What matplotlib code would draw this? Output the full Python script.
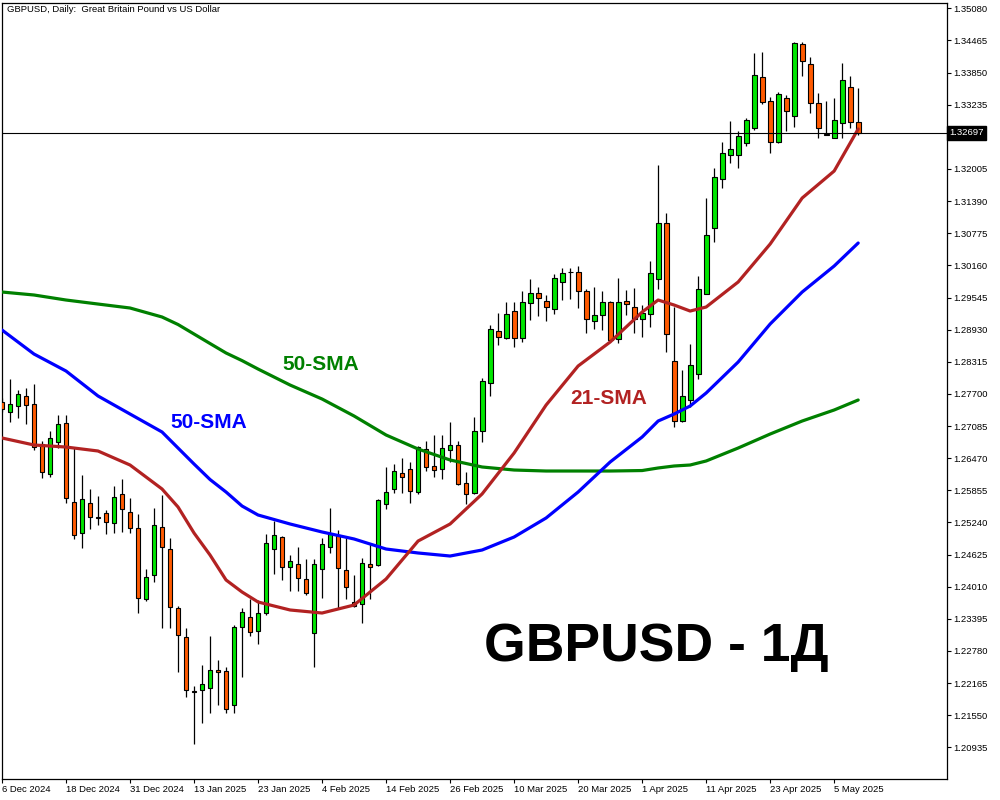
import matplotlib
matplotlib.use('Agg')
import matplotlib.pyplot as plt
import numpy as np

plt.rcParams['font.family'] = ['Liberation Sans', 'DejaVu Sans']

# GBPUSD daily candles, 6 Dec 2024 .. 8 May 2025
opens = [1.27545, 1.27353, 1.27468, 1.27660, 1.27506, 1.26741, 1.26167, 1.26779, 1.27143, 1.25631,
         1.25037, 1.25612, 1.25344, 1.25420, 1.25229, 1.25785, 1.25439, 1.25133, 1.23774, 1.24234,
         1.25152, 1.24731, 1.23602, 1.23047, 1.22013, 1.22032, 1.22071, 1.22415, 1.22396, 1.21745,
         1.23238, 1.23430, 1.23162, 1.23506, 1.24731, 1.24961, 1.24387, 1.24444, 1.24157, 1.23123,
         1.24348, 1.24769, 1.24999, 1.24329, 1.23717, 1.23678, 1.24444, 1.24425, 1.25592, 1.25880,
         1.26186, 1.26262, 1.25822, 1.26645, 1.26320, 1.26262, 1.26626, 1.26722, 1.25994, 1.25803,
         1.26990, 1.27908, 1.28904, 1.28770, 1.29286, 1.28770, 1.29440, 1.29631, 1.29478, 1.29325,
         1.29842, 1.30033, 1.30033, 1.29669, 1.29095, 1.29210, 1.29459, 1.28751, 1.29478, 1.29363,
         1.29133, 1.29229, 1.29899, 1.30971, 1.28330, 1.27181, 1.27583, 1.28081, 1.29612, 1.30875,
         1.31813, 1.32272, 1.32272, 1.32502, 1.32789, 1.33765, 1.33306, 1.32521, 1.33363, 1.33019,
         1.34397, 1.34014, 1.33268, 1.32674, 1.32598, 1.32885, 1.33574, 1.32904]
highs = [1.27621, 1.27985, 1.27774, 1.27813, 1.27889, 1.26798, 1.26990, 1.27296, 1.27296, 1.26683,
         1.26148, 1.25880, 1.25746, 1.25478, 1.25937, 1.26071, 1.25707, 1.25401, 1.24348, 1.25516,
         1.25765, 1.24942, 1.23640, 1.23219, 1.22109, 1.22511, 1.23066, 1.22607, 1.22473, 1.23277,
         1.23602, 1.23774, 1.23755, 1.25018, 1.25267, 1.24980, 1.24616, 1.24769, 1.24540, 1.24540,
         1.24942, 1.25516, 1.25095, 1.24942, 1.24234, 1.24559, 1.24846, 1.25688, 1.26301, 1.26358,
         1.26473, 1.26396, 1.26703, 1.26798, 1.26913, 1.26913, 1.27162, 1.26798, 1.26205, 1.27258,
         1.28004, 1.29019, 1.29248, 1.29459, 1.29459, 1.29669, 1.29899, 1.29746, 1.29593, 1.29995,
         1.30110, 1.30110, 1.30148, 1.29708, 1.29746, 1.29669, 1.29478, 1.29918, 1.29688, 1.29727,
         1.29401, 1.30244, 1.32081, 1.31162, 1.29363, 1.28157, 1.28655, 1.29956, 1.31449, 1.32024,
         1.32521, 1.32923, 1.32732, 1.32981, 1.34225, 1.34244, 1.33382, 1.33478, 1.33421, 1.34435,
         1.34435, 1.34148, 1.33459, 1.33306, 1.33363, 1.34033, 1.33784, 1.33555]
lows = [1.27353, 1.27162, 1.27239, 1.27124, 1.26626, 1.26090, 1.26109, 1.26664, 1.25612, 1.24923,
        1.24750, 1.25114, 1.25191, 1.25018, 1.25037, 1.25057, 1.25037, 1.23506, 1.23736, 1.24100,
        1.23219, 1.23219, 1.22377, 1.21898, 1.20999, 1.21401, 1.21592, 1.21745, 1.21592, 1.21592,
        1.22281, 1.23066, 1.22913, 1.23468, 1.24253, 1.24138, 1.23927, 1.23927, 1.23851, 1.22473,
        1.23793, 1.24655, 1.23583, 1.23774, 1.23621, 1.23315, 1.23774, 1.24406, 1.25497, 1.25803,
        1.25803, 1.25612, 1.25785, 1.26224, 1.26109, 1.26071, 1.26396, 1.25956, 1.25592, 1.25785,
        1.26779, 1.27660, 1.28636, 1.28751, 1.28597, 1.28693, 1.29114, 1.29191, 1.29095, 1.29229,
        1.29497, 1.29516, 1.29344, 1.28865, 1.28942, 1.28923, 1.28693, 1.28674, 1.29210, 1.28865,
        1.28789, 1.28980, 1.29708, 1.28502, 1.27066, 1.27162, 1.27449, 1.27985, 1.29612, 1.30607,
        1.31641, 1.32119, 1.32024, 1.32445, 1.32751, 1.33248, 1.32311, 1.32502, 1.32732, 1.32808,
        1.33784, 1.33076, 1.32598, 1.32655, 1.32598, 1.32598, 1.32789, 1.32655]
closes = [1.27411, 1.27506, 1.27698, 1.27487, 1.26683, 1.26205, 1.26856, 1.27124, 1.25707, 1.24999,
          1.25688, 1.25344, 1.25325, 1.25248, 1.25726, 1.25497, 1.25133, 1.23793, 1.24195, 1.25191,
          1.24769, 1.23621, 1.23085, 1.22032, 1.21994, 1.22147, 1.22415, 1.22377, 1.21669, 1.23238,
          1.23525, 1.23143, 1.23506, 1.24846, 1.24999, 1.24387, 1.24502, 1.24176, 1.23889, 1.24444,
          1.24827, 1.25018, 1.24368, 1.24004, 1.23640, 1.24463, 1.24387, 1.25669, 1.25822, 1.26224,
          1.26109, 1.25841, 1.26683, 1.26301, 1.26243, 1.26664, 1.26722, 1.25975, 1.25785, 1.26990,
          1.27947, 1.28942, 1.28789, 1.29229, 1.28770, 1.29459, 1.29631, 1.29535, 1.29363, 1.29918,
          1.30014, 1.30025, 1.29669, 1.29133, 1.29210, 1.29459, 1.28731, 1.29459, 1.29420, 1.29133,
          1.29248, 1.30014, 1.30971, 1.28846, 1.27181, 1.27660, 1.28253, 1.29708, 1.30741, 1.31851,
          1.32311, 1.32387, 1.32636, 1.32942, 1.33804, 1.33287, 1.32521, 1.33440, 1.33115, 1.34416,
          1.34072, 1.33268, 1.32789, 1.32665, 1.32942, 1.33708, 1.32904, 1.32697]

last_price = 1.32697

# moving averages at these bars
ma_bars = [0, 4, 8, 12, 16, 20, 22, 24, 26, 28, 30, 32, 36, 40, 44, 48, 52, 56, 60, 64,
           68, 72, 76, 80, 82, 84, 86, 88, 92, 96, 100, 104, 107]
sma21 = [1.26856, 1.26722, 1.26683, 1.26607, 1.26339, 1.25880, 1.25535, 1.25037, 1.24616, 1.24138,
         1.23908, 1.23717, 1.23564, 1.23506, 1.23659, 1.24157, 1.24884, 1.25210, 1.25785, 1.26569,
         1.27487, 1.28234, 1.28693, 1.29267, 1.29497, 1.29401, 1.29286, 1.29363, 1.29842, 1.30569,
         1.31449, 1.31966, 1.32770]
sma_blue = [1.28923, 1.28463, 1.28138, 1.27660, 1.27315, 1.26971, 1.26664, 1.26358, 1.26061, 1.25822,
            1.25554, 1.25382, 1.25210, 1.25057, 1.24923, 1.24731, 1.24655, 1.24597, 1.24712, 1.24961,
            1.25325, 1.25822, 1.26396, 1.26875, 1.27181, 1.27315, 1.27468, 1.27717, 1.28310, 1.29038,
            1.29650, 1.30148, 1.30588]
sma_green = [1.29650, 1.29593, 1.29497, 1.29420, 1.29344, 1.29172, 1.29028, 1.28846, 1.28664, 1.28483,
             1.28337, 1.28176, 1.27870, 1.27602, 1.27277, 1.26913, 1.26645, 1.26435, 1.26301, 1.26243,
             1.26224, 1.26224, 1.26224, 1.26233, 1.26282, 1.26320, 1.26339, 1.26416, 1.26664, 1.26932,
             1.27181, 1.27392, 1.27583]

date_ticks = ['6 Dec 2024', '18 Dec 2024', '31 Dec 2024', '13 Jan 2025', '23 Jan 2025',
              '4 Feb 2025', '14 Feb 2025', '26 Feb 2025', '10 Mar 2025', '20 Mar 2025',
              '1 Apr 2025', '11 Apr 2025', '23 Apr 2025', '5 May 2025']
price_ticks = [1.20935, 1.21550, 1.22165, 1.22780, 1.23395, 1.24010, 1.24625, 1.25240,
               1.25855, 1.26470, 1.27085, 1.27700, 1.28315, 1.28930, 1.29545, 1.30160,
               1.30775, 1.31390, 1.32005, 1.32620, 1.33235, 1.33850, 1.34465, 1.35080]

fig = plt.figure(figsize=(10, 8), dpi=100)
ax = fig.add_axes([0.002, 0.02625, 0.945, 0.97])

bull = '#00e600'
bear = '#ff5a00'

x = np.arange(len(closes))
o = np.array(opens)
c = np.array(closes)
cols = np.where(c >= o, bull, bear)

# wicks then bodies
ax.vlines(x, lows, highs, color='black', linewidth=0.9, zorder=2)
ax.bar(x, np.abs(c - o), bottom=np.minimum(o, c), width=0.6, color=cols,
       edgecolor='black', linewidth=0.8, zorder=3)

# moving averages
for vals, col in [(sma_green, '#008000'), (sma_blue, '#0000ff'), (sma21, '#b22222')]:
    ax.plot(ma_bars, vals, color=col, lw=2.3, zorder=4,
            solid_joinstyle='round', solid_capstyle='round')

# current price line + box (box hides the 1.32620 label, like the terminal does)
ax.axhline(last_price, color='black', lw=0.8, zorder=5)
ax.text(1.002, last_price, '1.32697', transform=ax.get_yaxis_transform(),
        color='white', fontsize=6.8, va='center', ha='left', clip_on=False, zorder=10,
        bbox=dict(boxstyle='square,pad=0.25', fc='black', ec='black'))

# labels
ax.text(35.1, 1.28272, '50-SMA', color='#008000', fontsize=15, fontweight='bold',
        ha='left', va='center')
ax.text(21.1, 1.27162, '50-SMA', color='#0000ff', fontsize=15, fontweight='bold',
        ha='left', va='center')
ax.text(71.0, 1.27621, '21-SMA', color='#b22222', fontsize=15, fontweight='bold',
        ha='left', va='center')
ax.text(60.25, 1.22588, 'GBPUSD - 1Д', color='black', fontsize=38.5, fontweight='bold',
        ha='left', va='baseline')

fig.text(0.007, 0.9935, 'GBPUSD, Daily:  Great Britain Pound vs US Dollar',
         fontsize=6.8, ha='left', va='top')

ax.set_xlim(0, 118.1)
ax.set_ylim(1.20329, 1.35182)

ax.set_xticks(np.arange(0, 8 * len(date_ticks), 8))
ax.set_xticklabels(date_ticks)
for lbl in ax.get_xticklabels():
    lbl.set_ha('left')
ax.set_yticks(price_ticks)
ax.set_yticklabels(['' if abs(p - last_price) < 0.001 else f'{p:.5f}' for p in price_ticks])

ax.yaxis.tick_right()
ax.tick_params(axis='both', direction='out', length=3, width=0.8, labelsize=6.8,
               colors='black')
ax.tick_params(axis='y', pad=1.5)
ax.tick_params(axis='x', pad=1.5)
for s in ax.spines.values():
    s.set_linewidth(0.9)
    s.set_color('black')

fig.savefig('out.png', dpi=100)
